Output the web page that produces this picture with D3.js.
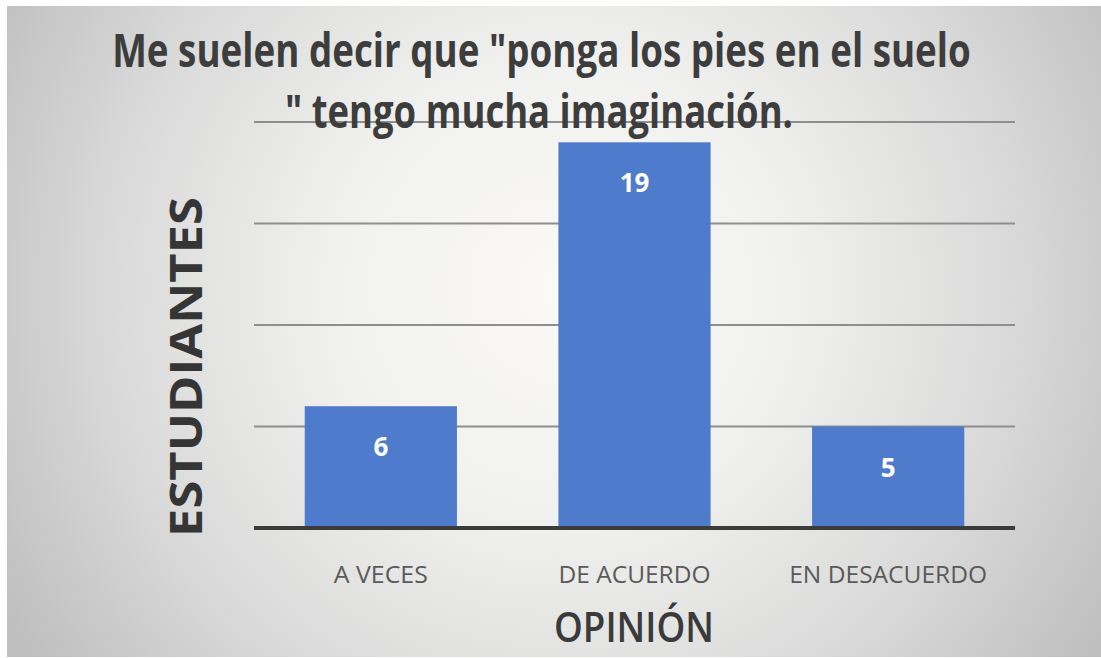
<!DOCTYPE html>
<html>
<head>
<meta charset="utf-8">
<script src="https://cdn.jsdelivr.net/npm/d3@7"></script>
<style>
  html, body { margin: 0; padding: 0; background: #ffffff; }
  svg { display: block; }
</style>
</head>
<body>
<svg id="chart" width="1101" height="658"></svg>
<script>
// ---- data ----
const categories = ["A VECES", "DE ACUERDO", "EN DESACUERDO"];
const values = [6, 19, 5];
const gridTicks = [0, 5, 10, 15, 20];
const titleLines = ["Me suelen decir que \"ponga los pies en el suelo", "\" tengo mucha imaginación."];
const yAxisTitle = "ESTUDIANTES";
const xAxisTitle = "OPINIÓN";

// ---- layout ----
const W = 1101, H = 658;
const plot = { left: 254, right: 1015, top: 122, bottom: 528 };
const svg = d3.select("#chart");

// scale a text along its writing direction (around its anchor point) so it spans the given width
function fitWidth(node, cx, cy, width, rotate) {
  const nat = node.getComputedTextLength();
  const s = width / nat;
  const rot = rotate ? ` rotate(${rotate})` : "";
  d3.select(node).attr("x", 0).attr("y", 0)
    .attr("transform", `translate(${cx},${cy})${rot} scale(${s},1)`);
}

const defs = svg.append("defs");
const grad = defs.append("radialGradient")
  .attr("id", "bg").attr("gradientUnits", "userSpaceOnUse")
  .attr("cx", 560).attr("cy", 290).attr("r", 640);
grad.append("stop").attr("offset", 0).attr("stop-color", "#faf9f5");
grad.append("stop").attr("offset", 0.35).attr("stop-color", "#f1f1ef");
grad.append("stop").attr("offset", 0.7).attr("stop-color", "#dadada");
grad.append("stop").attr("offset", 1).attr("stop-color", "#bfbfbf");

svg.append("rect").attr("x", 7).attr("y", 6).attr("width", W - 7).attr("height", H - 7)
  .attr("fill", "url(#bg)");

const x = d3.scaleBand().domain(categories)
  .range([plot.left, plot.right]).paddingInner(0.4).paddingOuter(0.2);
const y = d3.scaleLinear().domain([0, 20]).range([plot.bottom, plot.top]);

// gridlines
svg.append("g").selectAll("line").data(gridTicks.filter(d => d > 0)).join("line")
  .attr("x1", plot.left).attr("x2", plot.right)
  .attr("y1", d => y(d)).attr("y2", d => y(d))
  .attr("stroke", "#8e8e8e").attr("stroke-width", 2);

// bars
svg.append("g").selectAll("rect").data(values).join("rect")
  .attr("x", (d, i) => x(categories[i]))
  .attr("y", d => y(d))
  .attr("width", x.bandwidth())
  .attr("height", d => y(0) - y(d))
  .attr("fill", "#4e7bcb");

// baseline + category labels
const xAxis = d3.axisBottom(x).tickSize(0).tickPadding(0);
const gx = svg.append("g").attr("transform", `translate(0,${plot.bottom})`).call(xAxis);
gx.select(".domain").attr("stroke", "#3b3b3b").attr("stroke-width", 4)
  .attr("d", `M${plot.left},0H${plot.right}`);
const catWidths = {"A VECES": 94, "DE ACUERDO": 152, "EN DESACUERDO": 198};
gx.selectAll(".tick text")
  .attr("dy", 0)
  .attr("font-family", "'Open Sans', sans-serif")
  .attr("font-size", 24)
  .attr("fill", "#5a5a5a")
  .each(function(d) { fitWidth(this, 0, 55, catWidths[d]); });

// data labels
svg.append("g").selectAll("text").data(values).join("text")
  .attr("x", (d, i) => x(categories[i]) + x.bandwidth() / 2)
  .attr("y", d => y(d) + 50)
  .attr("text-anchor", "middle")
  .attr("font-family", "'Open Sans', sans-serif")
  .attr("font-weight", "bold")
  .attr("font-size", 26)
  .attr("fill", "#ffffff")
  .text(d => d);

// title
const titleWidths = [859, 508];
const titleCenters = [541.5, 539];
svg.append("g").selectAll("text").data(titleLines).join("text")
  .attr("text-anchor", "middle")
  .attr("font-family", "'Open Sans', sans-serif")
  .attr("font-weight", "bold")
  .attr("font-size", 46)
  .attr("fill", "#3d3d3d")
  .text(d => d)
  .each(function(d, i) { fitWidth(this, titleCenters[i], 67 + i * 61, titleWidths[i]); });

// y axis title
svg.append("text")
  .attr("text-anchor", "middle")
  .attr("font-family", "'Open Sans', sans-serif")
  .attr("font-weight", "bold")
  .attr("font-size", 44)
  .attr("fill", "#353535")
  .text(yAxisTitle)
  .each(function() { fitWidth(this, 202, 367, 340, -90); });

// x axis title
svg.append("text")
  .attr("text-anchor", "middle")
  .attr("font-family", "'Open Sans', sans-serif")
  .attr("font-weight", 600)
  .attr("font-size", 42)
  .attr("fill", "#3a3a3a")
  .text(xAxisTitle)
  .each(function() { fitWidth(this, 634, 642, 160); });
</script>
</body>
</html>
